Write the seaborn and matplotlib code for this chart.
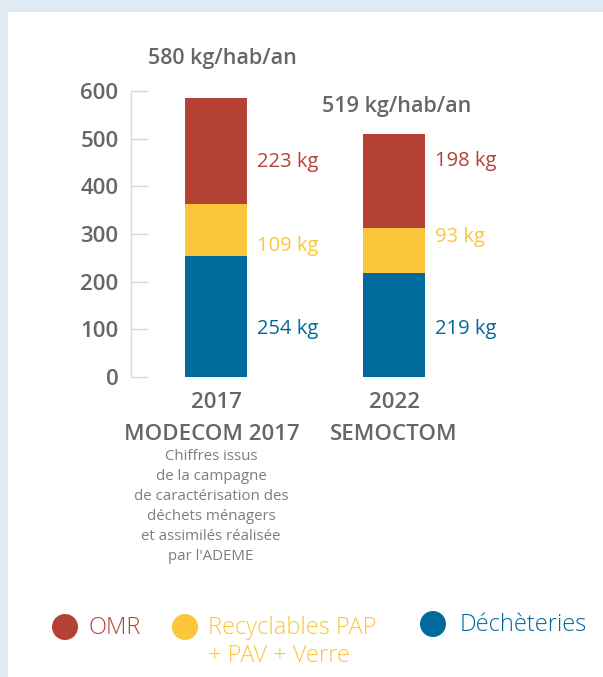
import matplotlib
matplotlib.use("Agg")
import matplotlib.pyplot as plt
from matplotlib.patches import Ellipse, Rectangle
import seaborn as sns
import pandas as pd

# --- data -------------------------------------------------------------
years = ["2017", "2022"]
sources = ["MODECOM 2017", "SEMOCTOM"]
omr = [223, 198]            # ordures ménagères résiduelles (kg/hab/an)
recyclables = [109, 93]     # recyclables PAP + PAV + verre
decheteries = [254, 219]    # apports en déchèteries
total_labels = ["580 kg/hab/an", "519 kg/hab/an"]
y_ticks = [0, 100, 200, 300, 400, 500, 600]
note_2017 = [
    "Chiffres issus",
    "de la campagne",
    "de caractérisation des",
    "déchets ménagers",
    "et assimilés réalisée",
    "par l'ADEME",
]
legend_labels = ["OMR", "Recyclables PAP\n+ PAV + Verre", "Déchèteries"]

# --- style ------------------------------------------------------------
RED = "#b54135"
YELLOW = "#fbc63b"
BLUE = "#016a9c"
GRAY = "#666666"
NOTE_GRAY = "#7d7d7d"

sns.set_theme(style="white")
plt.rcParams["font.family"] = ["Open Sans", "DejaVu Sans"]

W, H = 603, 677
fig = plt.figure(figsize=(W / 100, H / 100), dpi=100)
fig.patch.set_facecolor("#dfeaf4")


def fx(px):
    return px / W


def fy(py):
    return 1 - py / H


# white card on the pale blue page
fig.add_artist(Rectangle((fx(8), 0), 1 - fx(8), fy(12), transform=fig.transFigure,
                         facecolor="white", edgecolor="none", zorder=0))

ax = fig.add_axes([fx(131), fy(377), fx(540) - fx(131), fy(91) - fy(377)])
ax.patch.set_alpha(0)

df = pd.DataFrame({
    "year": years,
    "dech": decheteries,
    "rec": recyclables,
    "omr": omr,
})
df["dech_rec"] = df["dech"] + df["rec"]
df["total"] = df["dech_rec"] + df["omr"]

# stacked bars: cumulative heights drawn from tallest to shortest
bar_w = 0.35
for col, color in [("total", RED), ("dech_rec", YELLOW), ("dech", BLUE)]:
    sns.barplot(data=df, x="year", y=col, color=color, width=bar_w,
                saturation=1, errorbar=None, linewidth=0, ax=ax)

ax.set_xlim(-0.478, 1.82)
ax.set_ylim(0, 600)
ax.set_yticks(y_ticks)
ax.set_xlabel("")
ax.set_ylabel("")
ax.set_xticks([])
for side in ["top", "right", "bottom"]:
    ax.spines[side].set_visible(False)
ax.spines["left"].set_color("#d9d9d9")
ax.spines["left"].set_linewidth(1)
ax.tick_params(axis="y", left=True, direction="in", length=12, width=1,
               color="#d9d9d9", pad=9, labelsize=16, labelcolor=GRAY)
for lbl in ax.get_yticklabels():
    lbl.set_fontweight("semibold")

PX = 0.72  # points per pixel at 100 dpi

# segment values beside each bar
label_heights = [[101, 275, 451], [101, 294, 453]]
seg_colors = [BLUE, YELLOW, RED]
for i in range(len(years)):
    vals = [decheteries[i], recyclables[i], omr[i]]
    for v, h, c in zip(vals, label_heights[i], seg_colors):
        ax.annotate(f"{v} kg", xy=(i + bar_w / 2, h), xytext=(10 * PX, 0),
                    textcoords="offset points", ha="left", va="center",
                    color=c, fontsize=14.5)

# totals above the bars
total_offsets = [(6, 39), (3, 27)]
for i, txt in enumerate(total_labels):
    ox, oy = total_offsets[i]
    ax.annotate(txt, xy=(i, df["total"][i]), xytext=(ox * PX, oy * PX),
                textcoords="offset points", ha="center", va="center",
                color=GRAY, fontsize=15.5, fontweight="semibold")

# category labels under the bars
for i in range(len(years)):
    ax.annotate(years[i], xy=(i, 0), xytext=(0, -26 * PX), textcoords="offset points",
                ha="center", va="center", color=GRAY, fontsize=16,
                fontweight="semibold", annotation_clip=False)
    ax.annotate(sources[i], xy=(i, 0), xytext=(-4 * PX if i == 0 else 0, -58 * PX),
                textcoords="offset points", ha="center", va="center", color=GRAY,
                fontsize=16, fontweight="semibold", annotation_clip=False)

for k, line in enumerate(note_2017):
    ax.annotate(line, xy=(0, 0), xytext=(-5 * PX, (-80 - 19.8 * k) * PX),
                textcoords="offset points", ha="center", va="center",
                color=NOTE_GRAY, fontsize=10.8, annotation_clip=False)

# legend with round markers
legend_items = [
    (65, 627, RED, 88),
    (185, 627, YELLOW, 208),
    (433, 624, BLUE, 460),
]
for (cx, cy, c, tx), lab in zip(legend_items, legend_labels):
    fig.add_artist(Ellipse((fx(cx), fy(cy)), 26 / W, 26 / H, transform=fig.transFigure,
                           facecolor=c, edgecolor="none"))
    for k, line in enumerate(lab.split("\n")):
        fig.text(fx(tx), fy(cy + 1 + 28 * k), line, ha="left", va="center",
                 color=c, fontsize=17, fontweight=300)

fig.savefig("out.png", dpi=100, facecolor=fig.get_facecolor())
